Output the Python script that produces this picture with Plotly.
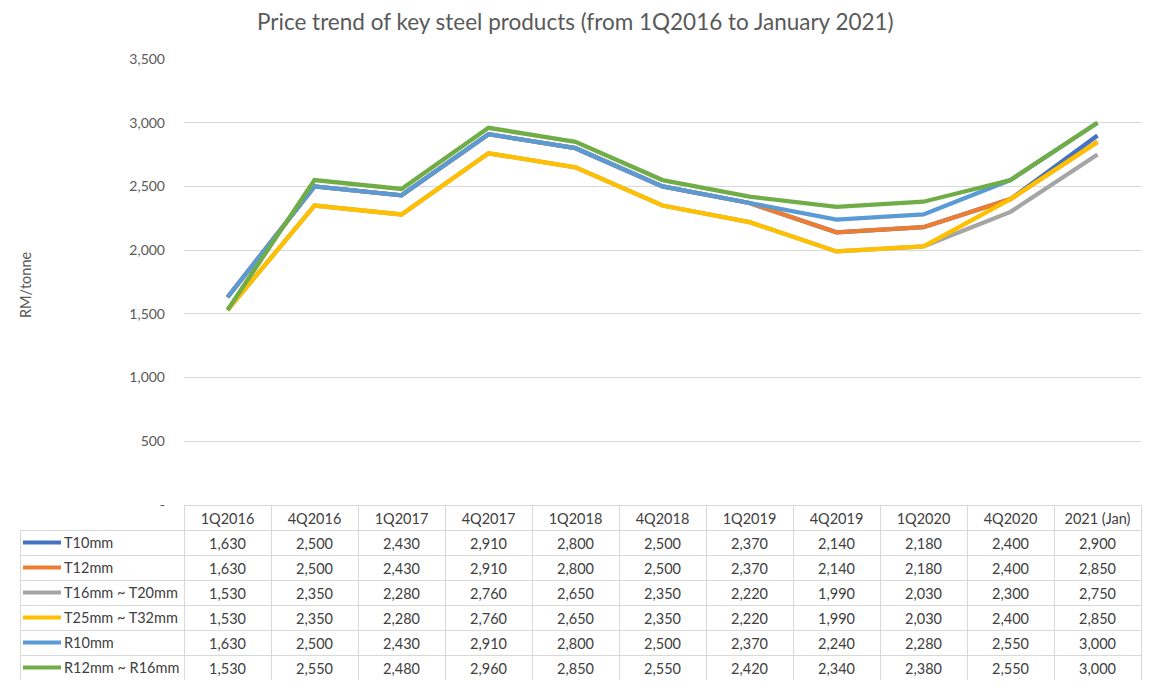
import plotly.graph_objects as go

categories = ["1Q2016", "4Q2016", "1Q2017", "4Q2017", "1Q2018", "4Q2018",
              "1Q2019", "4Q2019", "1Q2020", "4Q2020", "2021 (Jan)"]
series_names = ["T10mm", "T12mm", "T16mm ~ T20mm", "T25mm ~ T32mm", "R10mm", "R12mm ~ R16mm"]
t10 = [1630, 2500, 2430, 2910, 2800, 2500, 2370, 2140, 2180, 2400, 2900]
t12 = [1630, 2500, 2430, 2910, 2800, 2500, 2370, 2140, 2180, 2400, 2850]
t16_20 = [1530, 2350, 2280, 2760, 2650, 2350, 2220, 1990, 2030, 2300, 2750]
t25_32 = [1530, 2350, 2280, 2760, 2650, 2350, 2220, 1990, 2030, 2400, 2850]
r10 = [1630, 2500, 2430, 2910, 2800, 2500, 2370, 2240, 2280, 2550, 3000]
r12_16 = [1530, 2550, 2480, 2960, 2850, 2550, 2420, 2340, 2380, 2550, 3000]
colors = ["#4472C4", "#ED7D31", "#A5A5A5", "#FFC000", "#5B9BD5", "#70AD47"]
tick_vals = [0, 500, 1000, 1500, 2000, 2500, 3000, 3500]
tick_text = ["-", "500", "1,000", "1,500", "2,000", "2,500", "3,000", "3,500"]

all_series = [t10, t12, t16_20, t25_32, r10, r12_16]

W, H = 1153, 690
FONT = "Lato"
TXT = "#404040"
GRID = "#D9D9D9"
CLEAR = "rgba(0,0,0,0)"

plot_l, plot_r, plot_t, plot_b = 184, 1141, 59, 505
tab_l = 20
row_h = 25

fig = go.Figure()
for name, vals, c in zip(series_names, all_series, colors):
    fig.add_trace(go.Scatter(x=categories, y=vals, name=name, mode="lines",
                             line=dict(color=c, width=4.3), showlegend=False,
                             xaxis="x", yaxis="y"))

def fmt(v):
    return f"{v:,}"

columns = [["" for _ in series_names]] + [[fmt(s[i]) for s in all_series] for i in range(len(categories))]
first_w = plot_l - tab_l
col_w = (plot_r - plot_l) / len(categories)
fig.add_trace(go.Table(
    domain=dict(x=[tab_l / W, plot_r / W], y=[1 - (plot_b + row_h * 7) / H, 1 - plot_b / H]),
    columnwidth=[first_w] + [col_w] * len(categories),
    header=dict(values=[""] + categories, height=row_h,
                line=dict(color=[CLEAR] + [GRID] * len(categories), width=1),
                fill=dict(color=[CLEAR] + ["white"] * len(categories)), align="center",
                font=dict(family=FONT, size=14.5, color=TXT)),
    cells=dict(values=columns, height=row_h, line=dict(color=GRID, width=1),
               fill=dict(color="white"), align="center",
               font=dict(family=FONT, size=14.5, color=TXT)),
))

shapes = []
annotations = []
for i, (name, c) in enumerate(zip(series_names, colors)):
    yc = plot_b + row_h * (i + 1) + row_h / 2
    yp = 1 - yc / H
    shapes.append(dict(type="line", xref="paper", yref="paper",
                       x0=23 / W, x1=61 / W, y0=yp, y1=yp,
                       line=dict(color=c, width=4)))
    annotations.append(dict(text=name, xref="paper", yref="paper", x=62 / W, y=yp,
                            xanchor="left", yanchor="middle", showarrow=False,
                            font=dict(family=FONT, size=14.5, color=TXT)))

annotations.append(dict(text="Price trend of key steel products (from 1Q2016 to January 2021)",
                        xref="paper", yref="paper", x=575 / W, y=1 - 22 / H,
                        xanchor="center", yanchor="middle", showarrow=False,
                        font=dict(family=FONT, size=22.5, color="#595959")))
annotations.append(dict(text="RM/tonne", xref="paper", yref="paper", x=25 / W, y=1 - 285 / H,
                        xanchor="center", yanchor="middle", showarrow=False, textangle=-90,
                        font=dict(family=FONT, size=14.5, color="#595959")))

fig.update_layout(
    width=W, height=H,
    margin=dict(l=0, r=0, t=0, b=0, pad=0, autoexpand=False),
    paper_bgcolor="white", plot_bgcolor="white",
    xaxis=dict(domain=[plot_l / W, plot_r / W], type="category", range=[-0.5, len(categories) - 0.5],
               showticklabels=False, showgrid=False, zeroline=False, showline=False, ticks=""),
    yaxis=dict(domain=[1 - plot_b / H, 1 - plot_t / H], range=[0, 3500],
               tickvals=tick_vals, ticktext=tick_text, showgrid=True, gridcolor=GRID,
               gridwidth=1, zeroline=False, showline=False, ticks="",
               ticklabelstandoff=18,
               tickfont=dict(family=FONT, size=14, color="#595959")),
    shapes=shapes, annotations=annotations,
)

fig.write_html("out.html", config={"displayModeBar": False},
               post_script="document.body.style.margin='0';document.body.style.overflow='hidden';")
